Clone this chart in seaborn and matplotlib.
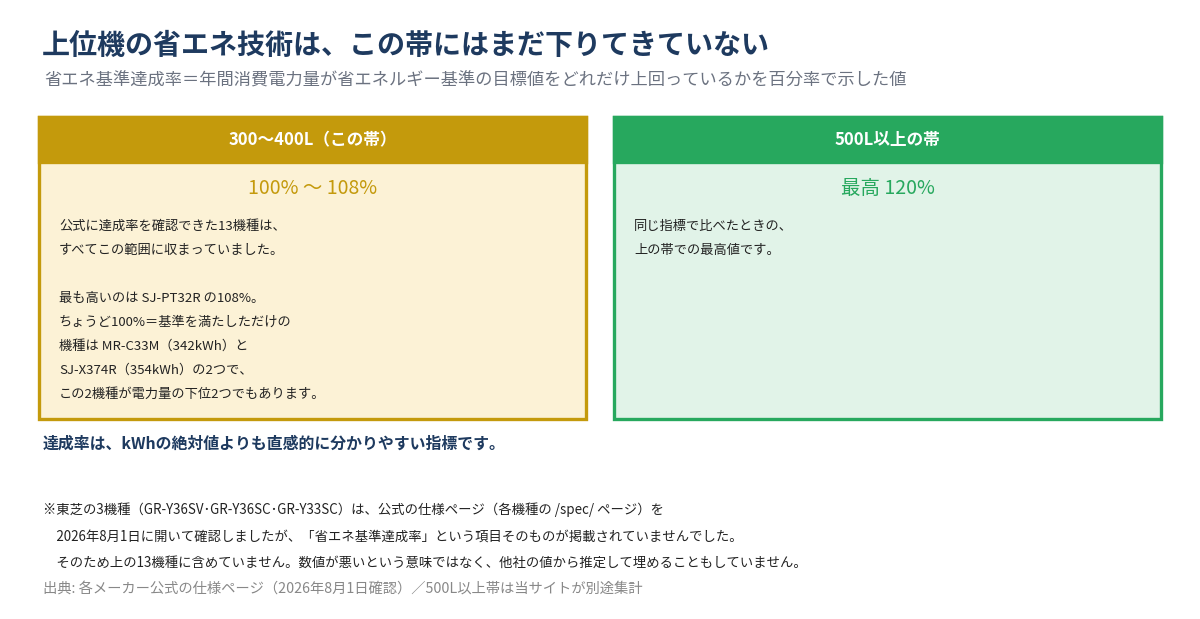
import matplotlib
matplotlib.use("Agg")
import matplotlib.pyplot as plt
from matplotlib.patches import Rectangle
import seaborn as sns

sns.set_theme(style="white")
plt.rcParams['font.family'] = ['Noto Sans CJK JP', 'DejaVu Sans']

title = "上位機の省エネ技術は、この帯にはまだ下りてきていない"
subtitle = "省エネ基準達成率＝年間消費電力量が省エネルギー基準の目標値をどれだけ上回っているかを百分率で示した値"
categories = ["300〜400L（この帯）", "500L以上の帯"]
value_labels = ["100% 〜 108%", "最高 120%"]
range_low = [100, None]
range_high = [108, 120]
body_texts = [
    ["公式に達成率を確認できた13機種は、",
     "すべてこの範囲に収まっていました。",
     "",
     "最も高いのは SJ-PT32R の108%。",
     "ちょうど100%＝基準を満たしただけの",
     "機種は MR-C33M（342kWh）と",
     "SJ-X374R（354kWh）の2つで、",
     "この2機種が電力量の下位2つでもあります。"],
    ["同じ指標で比べたときの、",
     "上の帯での最高値です。"],
]
main_colors = ["#C49A0C", "#27A85E"]
fill_colors = ["#FCF2D6", "#E1F3E8"]
summary = "達成率は、kWhの絶対値よりも直感的に分かりやすい指標です。"
notes = [
    "※東芝の3機種（GR-Y36SV･GR-Y36SC･GR-Y33SC）は、公式の仕様ページ（各機種の /spec/ ページ）を",
    "　2026年8月1日に開いて確認しましたが、「省エネ基準達成率」という項目そのものが掲載されていませんでした。",
    "　そのため上の13機種に含めていません。数値が悪いという意味ではなく、他社の値から推定して埋めることもしていません。",
]
source = "出典: 各メーカー公式の仕様ページ（2026年8月1日確認）／500L以上帯は当サイトが別途集計"

fig = plt.figure(figsize=(12, 6.19), dpi=100)
ax = fig.add_axes([0, 0, 1, 1])
ax.set_xlim(0, 1200)
ax.set_ylim(619, 0)
ax.axis("off")

ax.text(42, 46, title, fontsize=20.2, fontweight="bold", color="#1E3A5F", va="center", ha="left")
ax.text(44, 81, subtitle, fontsize=12.4, color="#6B7280", va="center", ha="left")

box_x = [39, 614]
box_w = 547
top, bottom, head_h = 117, 419, 45
for i in range(2):
    x0 = box_x[i]
    ax.add_patch(Rectangle((x0, top), box_w, bottom - top, facecolor=fill_colors[i],
                           edgecolor=main_colors[i], linewidth=2.4, zorder=1))
    ax.add_patch(Rectangle((x0, top), box_w, head_h, facecolor=main_colors[i],
                           edgecolor=main_colors[i], linewidth=2.4, zorder=2))
    cx = x0 + box_w / 2
    ax.text(cx, top + head_h / 2 + 1, categories[i], fontsize=12, fontweight="bold",
            color="white", ha="center", va="center", zorder=3)
    ax.text(cx, 189, value_labels[i], fontsize=14, color=main_colors[i],
            ha="center", va="center", zorder=3)
    for j, line in enumerate(body_texts[i]):
        ax.text(x0 + 20, 226 + j * 24.1, line, fontsize=9.5, color="#222222",
                ha="left", va="center", zorder=3)

ax.text(43, 444, summary, fontsize=11.45, fontweight="bold", color="#1E3A5F", ha="left", va="center")
for k, line in enumerate(notes):
    ax.text(43, 510 + k * 26.5, line, fontsize=9.6, color="#222222", ha="left", va="center")
ax.text(43, 590, source, fontsize=10.3, color="#888888", ha="left", va="center")

fig.savefig("out.png", dpi=100)
